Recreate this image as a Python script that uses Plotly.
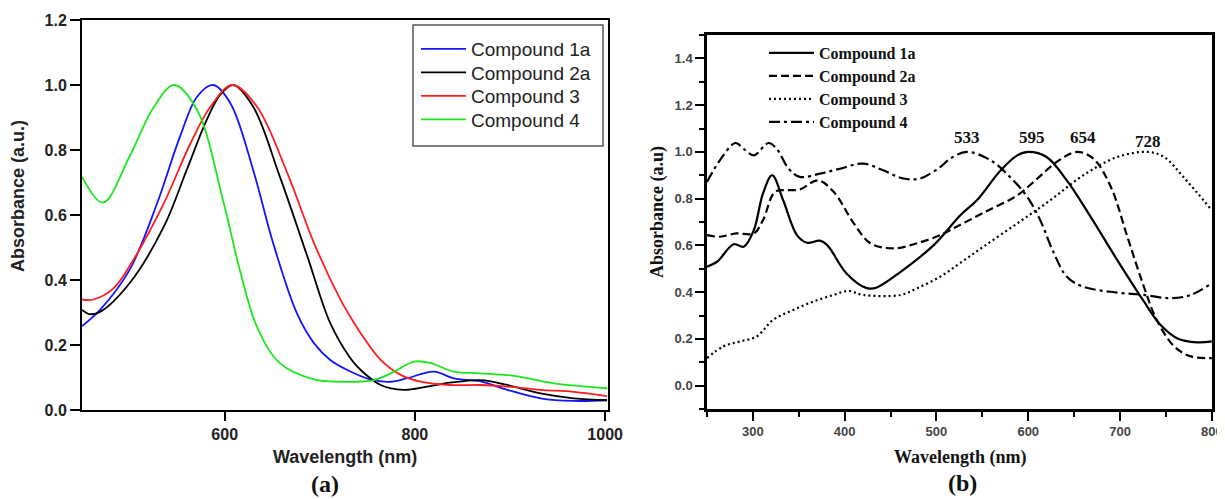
import plotly.graph_objects as go

# Target picture is 1225x499; the page body adds an 8px margin at top-left, so the
# figure is shifted by 8px and all positions below are given in picture pixels.
PIC_W, PIC_H = 1225, 499
OFF = 8
FW, FH = PIC_W - OFF, PIC_H - OFF

# ---------------- Panel (a) data ----------------
a_names = ["Compound 1a", "Compound 2a", "Compound 3", "Compound 4"]
a_colors = ["#1414ff", "#000000", "#ff1e1e", "#1ee61e"]

a_wl_1a = [450, 469, 500, 529, 553, 571, 588, 606, 630, 651, 676, 694, 711, 729, 753, 774, 792, 820, 841, 869, 897, 932, 967, 1002]
a_ab_1a = [0.258, 0.308, 0.431, 0.636, 0.841, 0.964, 1.0, 0.944, 0.738, 0.513, 0.297, 0.205, 0.154, 0.123, 0.094, 0.087, 0.098, 0.118, 0.097, 0.088, 0.062, 0.036, 0.028, 0.03]

a_wl_2a = [450, 458, 469, 500, 536, 560, 581, 595, 609, 630, 658, 687, 711, 732, 743, 764, 788, 813, 837, 869, 897, 932, 967, 1002]
a_ab_2a = [0.308, 0.295, 0.302, 0.39, 0.564, 0.738, 0.892, 0.969, 1.0, 0.933, 0.718, 0.472, 0.267, 0.16, 0.123, 0.077, 0.062, 0.072, 0.084, 0.092, 0.077, 0.051, 0.036, 0.03]

a_wl_3 = [450, 462, 483, 504, 536, 564, 585, 608, 634, 666, 694, 722, 732, 743, 764, 785, 806, 837, 869, 897, 932, 967, 1002]
a_ab_3 = [0.34, 0.34, 0.374, 0.462, 0.636, 0.82, 0.933, 1.0, 0.933, 0.728, 0.513, 0.338, 0.287, 0.236, 0.154, 0.108, 0.087, 0.077, 0.077, 0.072, 0.062, 0.056, 0.043]

a_wl_4 = [450, 472, 500, 525, 547, 571, 599, 616, 634, 658, 694, 722, 757, 778, 799, 816, 841, 869, 904, 946, 1002]
a_ab_4 = [0.718, 0.638, 0.78, 0.93, 1.0, 0.923, 0.636, 0.43, 0.256, 0.144, 0.094, 0.087, 0.092, 0.118, 0.149, 0.145, 0.118, 0.113, 0.105, 0.082, 0.067]

# ---------------- Panel (b) data ----------------
b_names = ["Compound 1a", "Compound 2a", "Compound 3", "Compound 4"]

b_wl_1a = [250, 261, 279, 290, 301, 311, 321, 333, 348, 359, 373, 381, 402, 424, 435, 461, 497, 526, 544, 570, 588, 600, 620, 642, 668, 697, 726, 744, 762, 784, 800]
b_ab_1a = [0.509, 0.53, 0.605, 0.594, 0.665, 0.822, 0.9, 0.793, 0.644, 0.611, 0.62, 0.601, 0.48, 0.417, 0.42, 0.487, 0.601, 0.729, 0.793, 0.921, 0.985, 1.0, 0.978, 0.878, 0.722, 0.537, 0.36, 0.26, 0.203, 0.185, 0.189]

b_wl_2a = [250, 264, 282, 301, 311, 324, 337, 351, 371, 388, 410, 428, 453, 479, 504, 522, 551, 588, 610, 631, 653, 671, 690, 708, 726, 740, 759, 777, 800]
b_ab_2a = [0.644, 0.637, 0.651, 0.651, 0.708, 0.829, 0.836, 0.839, 0.878, 0.829, 0.694, 0.609, 0.587, 0.609, 0.644, 0.68, 0.739, 0.814, 0.886, 0.957, 1.0, 0.971, 0.85, 0.637, 0.423, 0.281, 0.168, 0.125, 0.118]

b_wl_3 = [250, 268, 286, 304, 322, 344, 366, 388, 404, 420, 461, 479, 504, 526, 551, 588, 624, 660, 697, 730, 748, 769, 800]
b_ab_3 = [0.118, 0.168, 0.189, 0.21, 0.281, 0.324, 0.36, 0.388, 0.405, 0.388, 0.388, 0.417, 0.466, 0.525, 0.594, 0.694, 0.793, 0.9, 0.978, 1.0, 0.978, 0.893, 0.75]

b_wl_4 = [250, 264, 281, 290, 301, 317, 326, 339, 351, 373, 395, 420, 442, 464, 482, 504, 515, 533, 559, 580, 599, 613, 628, 642, 660, 697, 726, 755, 777, 800]
b_ab_4 = [0.871, 0.964, 1.038, 1.013, 0.985, 1.038, 1.013, 0.928, 0.893, 0.907, 0.928, 0.95, 0.921, 0.886, 0.886, 0.935, 0.971, 1.0, 0.964, 0.893, 0.807, 0.708, 0.566, 0.466, 0.423, 0.398, 0.388, 0.374, 0.388, 0.438]

b_peak_wl = [533, 604, 660, 731]
b_peak_y = [1.06, 1.06, 1.06, 1.045]
b_peak_labels = ["533", "595", "654", "728"]

b_dashes = ["solid", "8px,4px", "2px,3px", "11px,4px,3px,4px"]

a_series = [(a_wl_1a, a_ab_1a), (a_wl_2a, a_ab_2a), (a_wl_3, a_ab_3), (a_wl_4, a_ab_4)]
b_series = [(b_wl_1a, b_ab_1a), (b_wl_2a, b_ab_2a), (b_wl_3, b_ab_3), (b_wl_4, b_ab_4)]

SANS = "Arial, Liberation Sans, sans-serif"
SERIF = "Times New Roman, Liberation Serif, serif"


def px(p):
    return (p - OFF) / FW


def py(p):
    return 1 - (p - OFF) / FH


# legend item centres (picture pixels)
a_leg_y = [49, 72.5, 96, 119.5]
b_leg_y = [53, 76, 99, 122]

fig = go.Figure()
legends = {}
for i, ((x, y), name, col) in enumerate(zip(a_series, a_names, a_colors)):
    key = "legend" if i == 0 else f"legend{i + 1}"
    fig.add_trace(go.Scatter(x=x, y=y, name=name, mode="lines", showlegend=True,
                             line=dict(color=col, width=1.8, shape="spline", smoothing=1.0),
                             xaxis="x", yaxis="y", legend=key))
    legends[key] = dict(x=px(416), y=py(a_leg_y[i]), xanchor="left", yanchor="middle",
                        bgcolor="rgba(0,0,0,0)", borderwidth=0, itemwidth=45,
                        font=dict(family=SANS, size=19, color="#222"))
for j, ((x, y), name, dash) in enumerate(zip(b_series, b_names, b_dashes)):
    key = f"legend{j + 5}"
    fig.add_trace(go.Scatter(x=x, y=y, name=name, mode="lines", showlegend=True,
                             line=dict(color="black", width=2.2, dash=dash, shape="spline", smoothing=1.0),
                             xaxis="x2", yaxis="y2", legend=key))
    legends[key] = dict(x=px(764), y=py(b_leg_y[j]), xanchor="left", yanchor="middle",
                        bgcolor="rgba(0,0,0,0)", borderwidth=0, itemwidth=45,
                        font=dict(family=SERIF, size=16, color="#111", weight="bold"))

axis_common = dict(showline=True, linecolor="black", mirror=True, showgrid=False, automargin=False,
                   zeroline=False, ticks="outside", tickcolor="black")

fig.update_layout(
    width=FW, height=FH,
    showlegend=True,
    margin=dict(l=0, r=0, t=0, b=0, autoexpand=False),
    paper_bgcolor="white", plot_bgcolor="white",
    xaxis=dict(domain=[px(82), px(608)], range=[450, 1003], anchor="y",
               tickvals=[600, 800, 1000], ticklen=9, tickwidth=2, linewidth=2,
               tickfont=dict(family=SANS, size=16, color="#222", weight="bold"), **axis_common),
    yaxis=dict(domain=[py(410), py(20)], range=[0, 1.2], anchor="x",
               tickvals=[0, 0.2, 0.4, 0.6, 0.8, 1.0, 1.2], tickformat=".1f",
               ticklen=10, tickwidth=2, linewidth=2,
               tickfont=dict(family=SANS, size=16, color="#222", weight="bold"), **axis_common),
    xaxis2=dict(domain=[px(707), px(1212)], range=[250, 800.2], anchor="y2",
                tickmode="linear", tick0=0, dtick=100, ticklen=9, tickwidth=2, linewidth=2.5,
                minor=dict(ticks="outside", tickmode="linear", tick0=250, dtick=50, ticklen=5, tickwidth=2, tickcolor="black"),
                tickfont=dict(family=SANS, size=13, color="#444", weight="bold"), **axis_common),
    yaxis2=dict(domain=[py(409), py(35)], range=[-0.1, 1.5], anchor="x2",
                tickmode="linear", tick0=0, dtick=0.2, tickformat=".1f", ticklen=9, tickwidth=2, linewidth=2.5,
                minor=dict(ticks="outside", tickmode="linear", tick0=0, dtick=0.1, ticklen=5, tickwidth=2, tickcolor="black"),
                tickfont=dict(family=SANS, size=13, color="#444", weight="bold"), **axis_common),
    shapes=[dict(type="rect", xref="paper", yref="paper", x0=px(413), x1=px(603), y0=py(146), y1=py(25),
                 line=dict(color="#555", width=1.5), fillcolor="rgba(0,0,0,0)")],
    **legends,
)

ann = []
ann.append(dict(text="Absorbance (a.u.)", x=px(18), y=py(196), textangle=-90,
                font=dict(family=SANS, size=18, color="#222", weight="bold")))
ann.append(dict(text="Wavelength (nm)", x=px(345), y=py(457),
                font=dict(family=SANS, size=18, color="#222", weight="bold")))
ann.append(dict(text="(a)", x=px(325), y=py(484),
                font=dict(family=SERIF, size=24, color="#111", weight="bold")))
ann.append(dict(text="Absorbance (a.u)", x=px(658), y=py(212), textangle=-90,
                font=dict(family=SERIF, size=18, color="#111", weight="bold")))
ann.append(dict(text="Wavelength (nm)", x=px(960), y=py(457),
                font=dict(family=SERIF, size=18, color="#111", weight="bold")))
ann.append(dict(text="(b)", x=px(962), y=py(483),
                font=dict(family=SERIF, size=24, color="#111", weight="bold")))
for a in ann:
    a.update(xref="paper", yref="paper", xanchor="center", yanchor="middle", showarrow=False)
for xv, yv, lab in zip(b_peak_wl, b_peak_y, b_peak_labels):
    ann.append(dict(text=lab, x=xv, y=yv, xref="x2", yref="y2", showarrow=False,
                    xanchor="center", yanchor="middle",
                    font=dict(family=SERIF, size=17, color="#111", weight="bold")))
fig.update_layout(annotations=ann)

fig.write_html("out.html")
